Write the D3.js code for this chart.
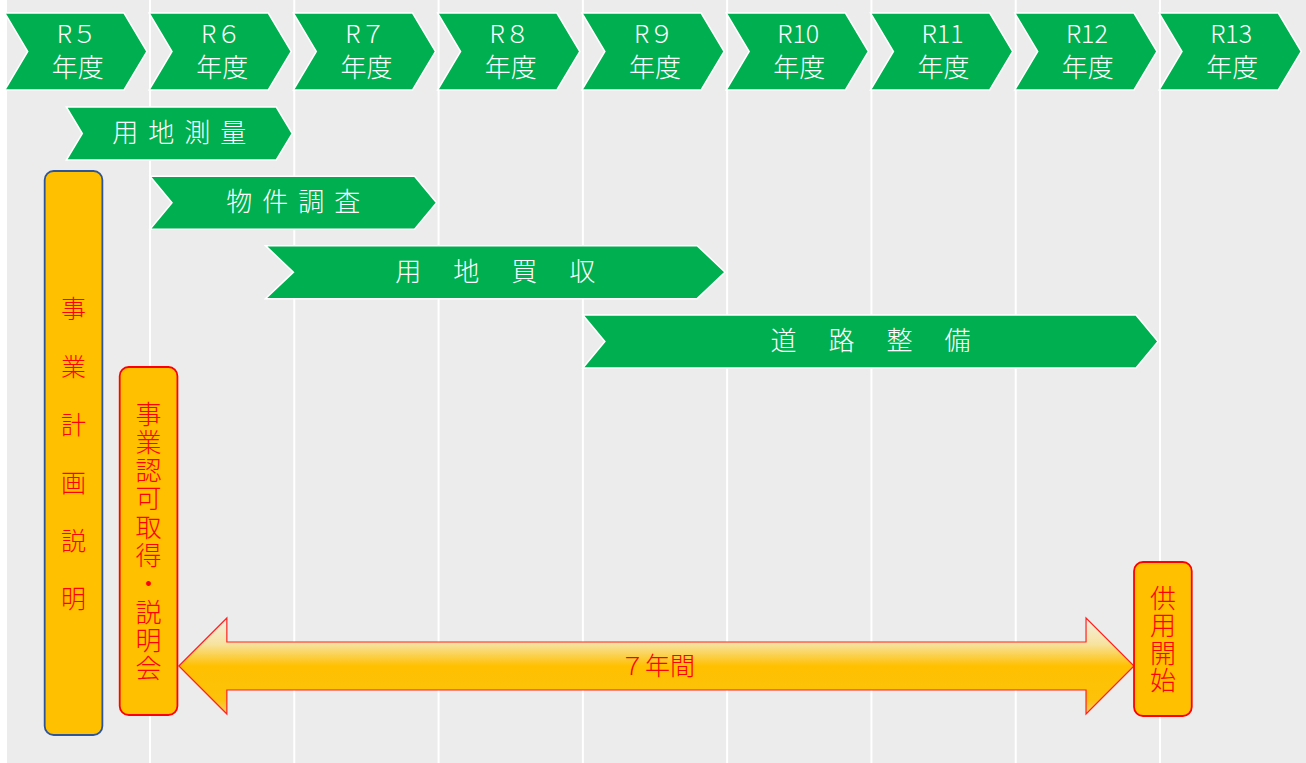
<!DOCTYPE html>
<html>
<head>
<meta charset="utf-8">
<script src="https://cdn.jsdelivr.net/npm/d3@7"></script>
<style>
  html, body { margin: 0; padding: 0; background: #fff; }
  svg { display: block; font-family: "Noto Sans CJK JP", "Noto Sans", sans-serif; }
</style>
</head>
<body>
<svg id="chart" width="1306" height="763"></svg>
<script>
// fiscal years across the top
const years = [5, 6, 7, 8, 9, 10, 11, 12, 13];
const yearLabels = ["R５", "R６", "R７", "R８", "R９", "R10", "R11", "R12", "R13"];

// work phases (start / end in fiscal-year units, end = start of following year)
const taskNames = ["用地測量", "物件調査", "用地買収", "道路整備"];
const taskStart = [5.42, 6.0, 6.8, 9.0];
const taskEnd = [7.0, 8.0, 10.0, 13.0];

// milestone boxes
const boxNames = ["事業計画説明", "事業認可取得・説明会", "供用開始"];
const boxStart = [5.27, 5.79, 12.82];
const boxEnd = [5.67, 6.19, 13.22];

// span arrow
const spanLabel = "７年間";
const spanFrom = 6.2;
const spanTo = 12.82;

const svg = d3.select("#chart");
const W = 1306, H = 763;
const x = d3.scaleLinear().domain([6, 13]).range([150, 1160]);
const rowY = d3.scaleLinear().domain([0, 3]).range([107, 315]);
const green = "#00b050";

// background + column separators
svg.append("rect").attr("x", 7).attr("y", 0).attr("width", W - 7).attr("height", H).attr("fill", "#ececec");
svg.selectAll("line.sep")
  .data(years.slice(1))
  .enter().append("line")
  .attr("class", "sep")
  .attr("x1", d => x(d)).attr("x2", d => x(d))
  .attr("y1", 0).attr("y2", H)
  .attr("stroke", "#fff").attr("stroke-width", 2);

function chevron(x0, x1, y0, h, notch) {
  const ym = y0 + h / 2;
  return `M${x0},${y0}L${x1 - notch},${y0}L${x1},${ym}L${x1 - notch},${y0 + h}L${x0},${y0 + h}L${x0 + notch},${ym}Z`;
}

// header chevrons
const head = svg.selectAll("g.year")
  .data(years)
  .enter().append("g")
  .attr("class", "year");

head.append("path")
  .attr("d", d => chevron(x(d) - 1, x(d + 1) - 3, 13, 77, 23))
  .attr("fill", green)
  .attr("stroke", "#fff").attr("stroke-width", 1.5);

head.append("text")
  .attr("x", d => (x(d) + x(d + 1)) / 2 - 1)
  .attr("y", 43)
  .attr("text-anchor", "middle")
  .attr("fill", "#fff")
  .attr("font-size", 25)
  .attr("font-weight", 300)
  .text((d, i) => yearLabels[i]);

head.append("text")
  .attr("x", d => (x(d) + x(d + 1)) / 2)
  .attr("y", 77)
  .attr("text-anchor", "middle")
  .attr("fill", "#fff")
  .attr("font-size", 26)
  .attr("font-weight", 300)
  .text("年度");

// task chevrons
const notchByTask = [16, 22, 28, 22];
const advByTask = [36, 36, 58, 58];
const tasks = svg.selectAll("g.task")
  .data(taskNames)
  .enter().append("g")
  .attr("class", "task");

tasks.append("path")
  .attr("d", (d, i) => chevron(x(taskStart[i]), x(taskEnd[i]) - 2, rowY(i), 53, notchByTask[i]))
  .attr("fill", green)
  .attr("stroke", "#fff").attr("stroke-width", 1.5);

tasks.each(function(d, i) {
  const cx = (x(taskStart[i]) + x(taskEnd[i])) / 2 - 1;
  const chars = Array.from(d);
  d3.select(this).selectAll("text")
    .data(chars)
    .enter().append("text")
    .attr("x", (c, j) => cx + (j - (chars.length - 1) / 2) * advByTask[i])
    .attr("y", rowY(i) + 35)
    .attr("text-anchor", "middle")
    .attr("fill", "#fff")
    .attr("font-size", 26)
    .attr("font-weight", 300)
    .text(c => c);
});

// span arrow with gradient
const grad = svg.append("defs").append("linearGradient")
  .attr("id", "arrowFill").attr("x1", 0).attr("y1", 0).attr("x2", 0).attr("y2", 1);
grad.append("stop").attr("offset", "0%").attr("stop-color", "#f2efe4");
grad.append("stop").attr("offset", "27%").attr("stop-color", "#f7e3a0");
grad.append("stop").attr("offset", "50%").attr("stop-color", "#ffc000");
grad.append("stop").attr("offset", "85%").attr("stop-color", "#fcc20a");
grad.append("stop").attr("offset", "100%").attr("stop-color", "#f3d060");

const ax0 = x(spanFrom), ax1 = x(spanTo);
const ay = 666, headW = 48, headH = 48, shaftH = 24;
svg.append("path")
  .attr("d", `M${ax0},${ay}L${ax0 + headW},${ay - headH}L${ax0 + headW},${ay - shaftH}` +
    `L${ax1 - headW},${ay - shaftH}L${ax1 - headW},${ay - headH}L${ax1},${ay}` +
    `L${ax1 - headW},${ay + headH}L${ax1 - headW},${ay + shaftH}L${ax0 + headW},${ay + shaftH}` +
    `L${ax0 + headW},${ay + headH}Z`)
  .attr("fill", "url(#arrowFill)")
  .attr("stroke", "#ff2020").attr("stroke-width", 1.2);

svg.append("text")
  .attr("x", (ax0 + ax1) / 2 + 1)
  .attr("y", ay + 9)
  .attr("text-anchor", "middle")
  .attr("fill", "#ff0000")
  .attr("font-size", 25)
  .attr("font-weight", 300)
  .text(spanLabel);

// milestone boxes with vertical text
const boxTop = [171, 367, 562];
const boxBottom = [735, 715, 716];
const boxStroke = ["#2f5597", "#ff0000", "#ff0000"];
const boxStep = [58, 28.3, 27.3];
const boxFont = [25, 26, 26];

const boxes = svg.selectAll("g.box")
  .data(boxNames)
  .enter().append("g")
  .attr("class", "box");

boxes.append("rect")
  .attr("x", (d, i) => x(boxStart[i]))
  .attr("y", (d, i) => boxTop[i])
  .attr("width", (d, i) => x(boxEnd[i]) - x(boxStart[i]))
  .attr("height", (d, i) => boxBottom[i] - boxTop[i])
  .attr("rx", 9)
  .attr("fill", "#ffc000")
  .attr("stroke", (d, i) => boxStroke[i])
  .attr("stroke-width", 1.8);

boxes.append("text")
  .attr("x", (d, i) => (x(boxStart[i]) + x(boxEnd[i])) / 2)
  .attr("y", (d, i) => (boxTop[i] + boxBottom[i]) / 2 + (boxStep[i] - boxFont[i]) / 2)
  .attr("text-anchor", "middle")
  .style("writing-mode", "vertical-rl")
  .style("letter-spacing", (d, i) => (boxStep[i] - boxFont[i]) + "px")
  .attr("fill", "#ff0000")
  .attr("font-size", (d, i) => boxFont[i])
  .attr("font-weight", 300)
  .text(d => d);
</script>
</body>
</html>
